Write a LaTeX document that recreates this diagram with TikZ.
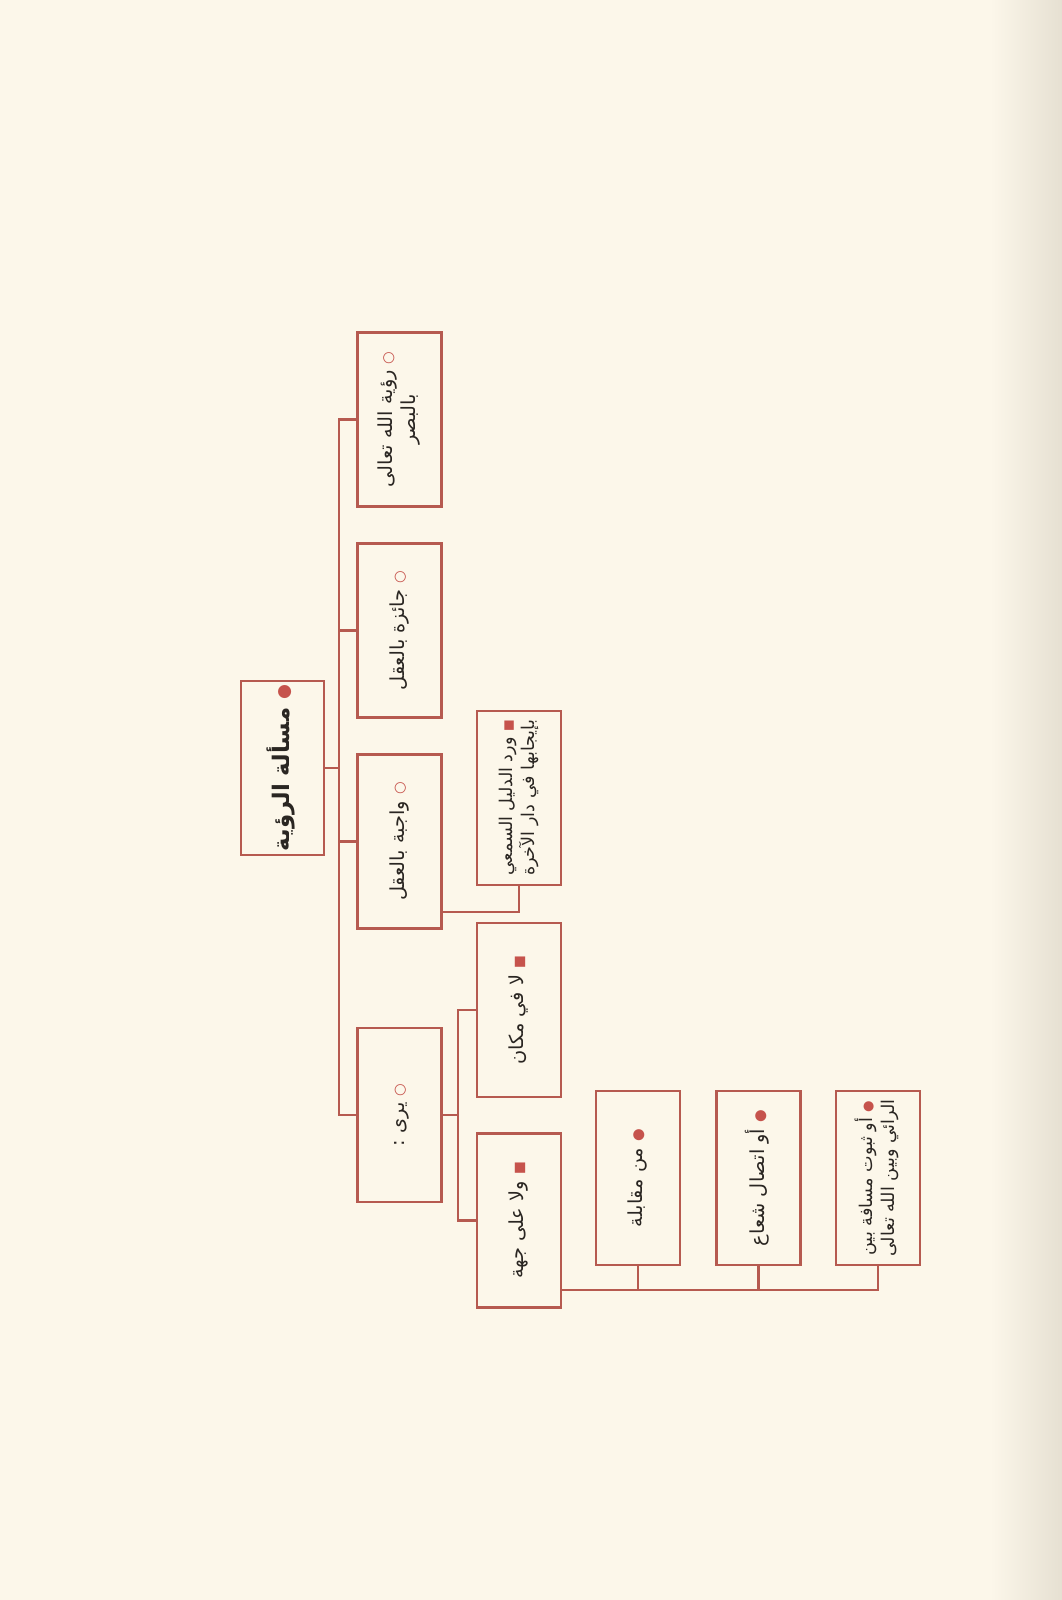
\documentclass[tikz,border=0pt]{standalone}
\usepackage{fontspec}
\usepackage{graphicx}
\newfontfamily\arabicfont[Script=Arabic]{DejaVu Sans}
\newfontfamily\symfont{DejaVu Sans}
\TeXXeTstate=1
\definecolor{paper}{HTML}{FCF7EA}
\definecolor{paperedge}{HTML}{E6E0D2}
\definecolor{linered}{HTML}{B65A50}
\definecolor{dotred}{HTML}{C6534C}
\definecolor{inkgray}{HTML}{2A2622}
\newcommand{\ar}[1]{\mbox{\beginR #1\endR}}
\newcommand{\mkring}{\textcolor{dotred}{\symfont\scalebox{0.75}{○}}}
\newcommand{\mkdot}{\textcolor{dotred}{\symfont\scalebox{0.75}{●}}}
\newcommand{\mksq}{\textcolor{dotred}{\symfont\scalebox{0.7}{■}}}
\newcommand{\upright}[1]{\rotatebox{90}{\begin{tabular}{@{}c@{}}#1\end{tabular}}}
\tikzset{
  box/.style={draw=linered, line width=0.7pt, inner sep=0pt, text=inkgray,
    minimum width=8.4mm, minimum height=17.4mm,
    font=\arabicfont\fontsize{5.5}{6.6}\selectfont},
  longbox/.style={box, font=\arabicfont\fontsize{5}{6.4}\selectfont},
  rootbox/.style={box, minimum width=8.3mm,
    font=\arabicfont\bfseries\fontsize{6.5}{8}\selectfont},
  link/.style={draw=linered, line width=0.7pt}
}
\begin{document}
\begin{tikzpicture}[x=0.1mm, y=-0.1mm]
    \useasboundingbox (0,0) rectangle (1062,1600);
    \fill[paper] (0,0) rectangle (1062,1600);
    \shade[left color=paper, right color=paperedge] (990,0) rectangle (1062,1600);

    % root
    \node[rootbox] (root) at (282.5,768) {\upright{\ar{مسألة الرؤية}\ \mkdot}};

    % first level
    \node[box] (A) at (399.5,419.5) {\upright{\ar{رؤية الله تعالى}\ \mkring\\ \ar{بالبصر}}};
    \node[box] (B) at (399.5,630.5) {\upright{\ar{جائزة بالعقل}\ \mkring}};
    \node[box] (C) at (399.5,841.5) {\upright{\ar{واجبة بالعقل}\ \mkring}};
    \node[box] (D) at (399.5,1115) {\upright{\ar{يرى :}\ \mkring}};

    % second level
    \node[longbox] (E) at (519,798) {\upright{\ar{ورد الدليل السمعي}\ \mksq\\ \ar{بإيجابها في دار الآخرة}}};
    \node[box] (F) at (519,1010) {\upright{\ar{لا في مكان}\ \mksq}};
    \node[box] (G) at (519,1220.5) {\upright{\ar{ولا على جهة}\ \mksq}};

    % third level
    \node[box] (H) at (638,1178) {\upright{\ar{من مقابلة}\ \mkdot}};
    \node[box] (I) at (758.5,1178) {\upright{\ar{أو اتصال شعاع}\ \mkdot}};
    \node[longbox] (J) at (878,1178) {\upright{\ar{أو ثبوت مسافة بين}\ \mkdot\\ \ar{الرائي وبين الله تعالى}}};

    % connectors
    \coordinate (trunk) at (339,0);
    \coordinate (trunkb) at (458,0);
    \draw[link] (root.east) -- (root.east -| trunk);
    \draw[link] (A.west) -- (A.west -| trunk) -- (D.west -| trunk) -- (D.west);
    \draw[link] (B.west) -- (B.west -| trunk);
    \draw[link] (C.west) -- (C.west -| trunk);

    \draw[link] (C.east |- 0,912) -| (E.south);

    \draw[link] (D.east) -- (D.east -| trunkb);
    \draw[link] (F.west) -- (F.west -| trunkb) -- (G.west -| trunkb) -- (G.west);

    \draw[link] (G.east |- 0,1290) -| (J.south);
    \draw[link] (H.south) -- (H.south |- 0,1290);
    \draw[link] (I.south) -- (I.south |- 0,1290);
\end{tikzpicture}
\end{document}
